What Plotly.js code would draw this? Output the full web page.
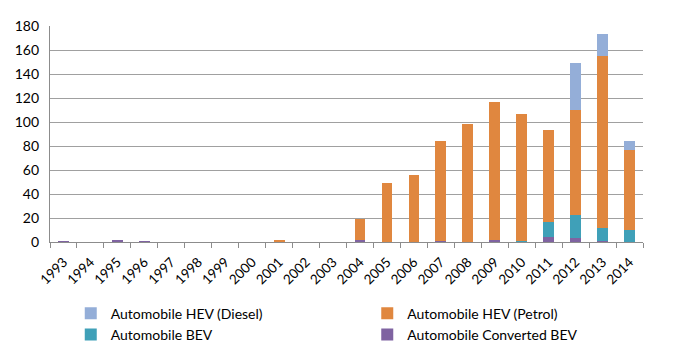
<!DOCTYPE html>
<html>
<head>
<meta charset="utf-8">
<script src="https://cdn.plot.ly/plotly-3.0.1.min.js"></script>
<style>html,body{margin:0;padding:0;background:#fff;}#chart{width:681px;height:355px;}</style>
</head>
<body>
<div id="chart"></div>
<script>
const years = ["1993","1994","1995","1996","1997","1998","1999","2000","2001","2002","2003","2004","2005","2006","2007","2008","2009","2010","2011","2012","2013","2014"];
const convertedBEV = [1,0,2,1,0,0,0,0,0,0,0,2,0,0,1,0,2,0,4,3,1,0];
const bev          = [0,0,0,0,0,0,0,0,0,0,0,0,0,0,0,0,0,1,13,19.5,11,10];
const hevPetrol    = [0,0,0,0,0,0,0,0,2,0,0,17,49,56,83,98,115,106,76,87.5,143,67];
const hevDiesel    = [0,0,0,0,0,0,0,0,0,0,0,0,0,0,0,0,0,0,0,39,18,7];

const font = "Lato, Noto Sans, sans-serif";
const mk = (name, y, color, legend) => ({type:"bar", name, x: years, y, legend, marker:{color, line:{width:0}}});
const data = [
  mk("Automobile Converted BEV", convertedBEV, "#7F63A1", "legend2"),
  mk("Automobile BEV", bev, "#3FA0B8", "legend"),
  mk("Automobile HEV (Petrol)", hevPetrol, "#E0873F", "legend2"),
  mk("Automobile HEV (Diesel)", hevDiesel, "#94AED8", "legend")
];
const legendBase = {
  orientation: "v", traceorder: "reversed", xanchor: "left", y: -0.258, yanchor: "top",
  font: {family: font, size: 14, color: "#000"}, itemwidth: 30, bgcolor: "rgba(0,0,0,0)", tracegroupgap: 0
};
const layout = {
  width: 681, height: 355,
  margin: {l:50, r:38, t:26, b:113, autoexpand: false},
  barmode: "stack",
  bargap: 0.6,
  paper_bgcolor: "#fff", plot_bgcolor: "#fff",
  font: {family: font, size: 13, color: "#000"},
  xaxis: {
    type: "category", tickangle: -45, showline: true, linecolor: "#8C8C8C", linewidth: 1,
    ticks: "outside", tickson: "boundaries", ticklen: 5, tickcolor: "#8C8C8C",
    showgrid: false, tickfont: {size: 13.5}, ticklabelstandoff: 6
  },
  yaxis: {
    range: [0, 180], dtick: 20, showline: true, linecolor: "#8C8C8C", linewidth: 1,
    gridcolor: "#A0A0A0", gridwidth: 1, zeroline: false, ticks: "", tickfont: {size: 14},
    ticksuffix: "  "
  },
  legend: Object.assign({}, legendBase, {x: 0.035}),
  legend2: Object.assign({}, legendBase, {x: 0.535}),
  showlegend: true
};
Plotly.newPlot("chart", data, layout, {staticPlot: true});
</script>
</body>
</html>
